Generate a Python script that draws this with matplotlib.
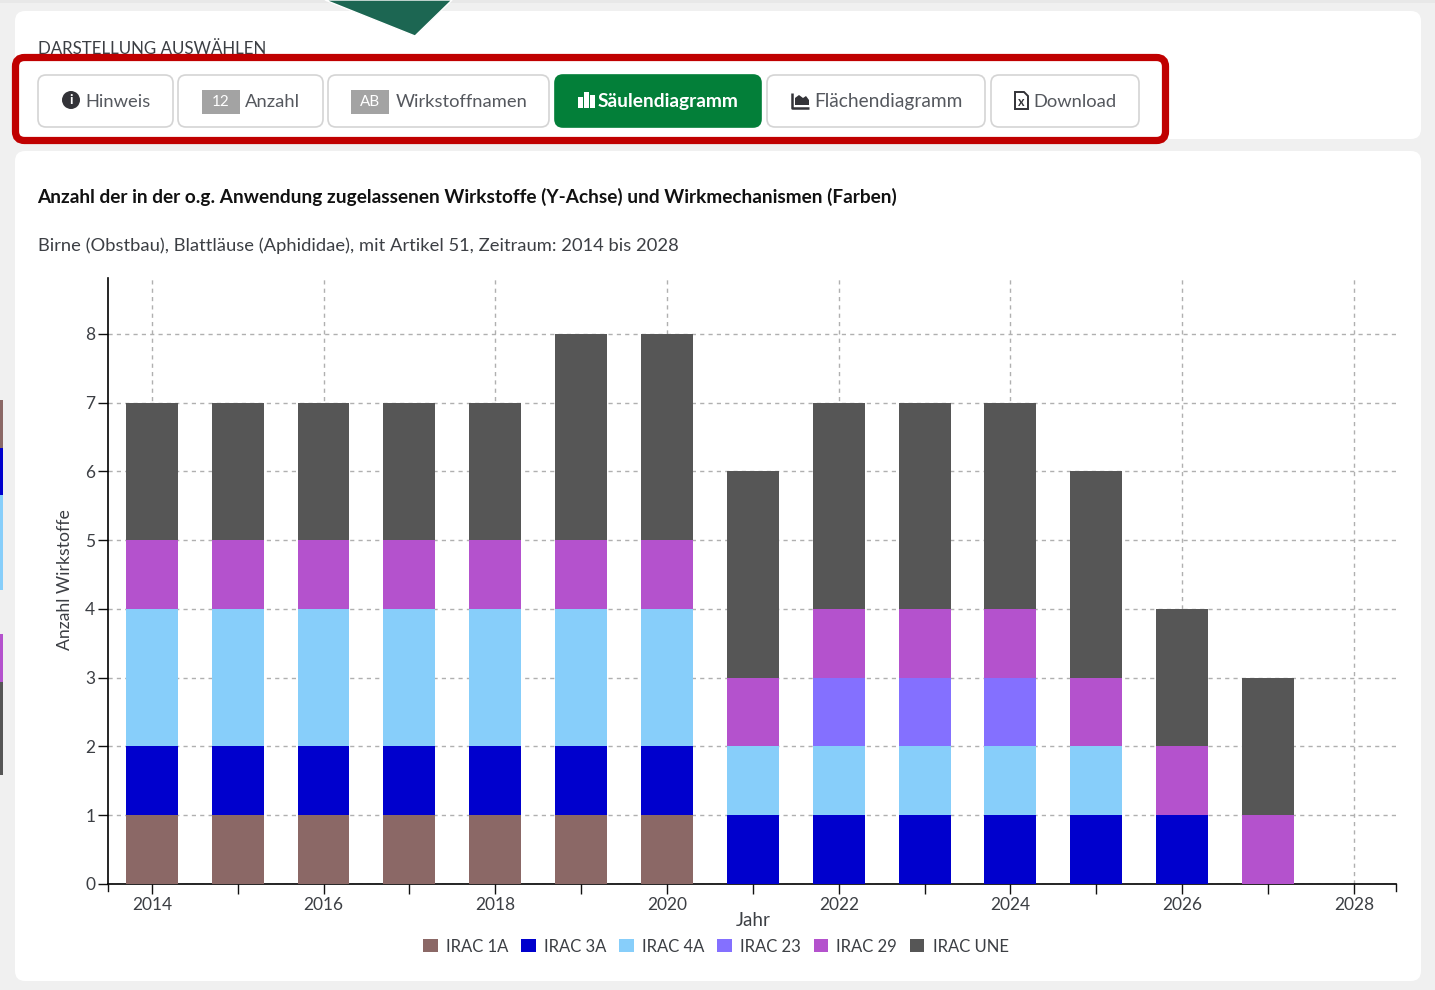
import matplotlib
matplotlib.use("Agg")
import numpy as np
import matplotlib.pyplot as plt
from matplotlib.patches import Rectangle, FancyBboxPatch, Polygon, Circle

plt.rcParams['font.family'] = ['Lato', 'DejaVu Sans']

years = [2014, 2015, 2016, 2017, 2018, 2019, 2020, 2021, 2022, 2023, 2024, 2025, 2026, 2027, 2028]
irac_1a = [1, 1, 1, 1, 1, 1, 1, 0, 0, 0, 0, 0, 0, 0, 0]
irac_3a = [1, 1, 1, 1, 1, 1, 1, 1, 1, 1, 1, 1, 1, 0, 0]
irac_4a = [2, 2, 2, 2, 2, 2, 2, 1, 1, 1, 1, 1, 0, 0, 0]
irac_23 = [0, 0, 0, 0, 0, 0, 0, 0, 1, 1, 1, 0, 0, 0, 0]
irac_29 = [1, 1, 1, 1, 1, 1, 1, 1, 1, 1, 1, 1, 1, 1, 0]
irac_une = [2, 2, 2, 2, 2, 3, 3, 3, 3, 3, 3, 3, 2, 2, 0]
series = [irac_1a, irac_3a, irac_4a, irac_23, irac_29, irac_une]
series_names = ["IRAC 1A", "IRAC 3A", "IRAC 4A", "IRAC 23", "IRAC 29", "IRAC UNE"]
series_colors = ["#8b6866", "#0000cd", "#87cefa", "#8470ff", "#b452cd", "#565656"]

title_text = "Anzahl der in der o.g. Anwendung zugelassenen Wirkstoffe (Y-Achse) und Wirkmechanismen (Farben)"
sub_text = "Birne (Obstbau), Blattläuse (Aphididae), mit Artikel 51, Zeitraum: 2014 bis 2028"
button_labels = ["Hinweis", "Anzahl", "Wirkstoffnamen", "Säulendiagramm", "Flächendiagramm", "Download"]

W, H = 1435, 990
TXT = "#3c3f44"
fig = plt.figure(figsize=(W / 100, H / 100), dpi=100, facecolor="#f0f0f0")

# page furniture, in pixel coords
bg = fig.add_axes([0, 0, 1, 1], zorder=0)
bg.set_xlim(0, W)
bg.set_ylim(H, 0)
bg.axis("off")

def card(x0, y0, x1, y1):
    bg.add_patch(FancyBboxPatch((x0 + 10, y0 + 10), x1 - x0 - 20, y1 - y0 - 20,
                                boxstyle="round,pad=10,rounding_size=10", fc="white", ec="none"))

card(15, 11, 1421, 139)
card(15, 151, 1421, 981)
bg.add_patch(Rectangle((0, 0), W, 3, fc="#e8e8e8", ec="none"))

# bits of the page behind, cut off on the left
for y0, y1, c in [(400, 448, "#8b6866"), (448, 495, "#0000cd"), (495, 590, "#87cefa"),
                  (634, 682, "#b452cd"), (682, 775, "#565656")]:
    bg.add_patch(Rectangle((0, y0), 3, y1 - y0, fc=c, ec="none"))

bg.add_patch(Polygon([(325, 0), (415, 36), (452, 0)], closed=True, fc="#1c6652", ec="white", lw=1))
bg.text(38, 49, "DARSTELLUNG AUSWÄHLEN", fontsize=12.15, color=TXT, va="center")

bg.add_patch(FancyBboxPatch((24, 66), 1133, 66, boxstyle="round,pad=8.5,rounding_size=9",
                            fc="none", ec="#c00000", lw=5.2, zorder=4))

# buttons
btn_x = [(38, 173), (178, 323), (328, 549), (555, 761), (767, 985), (991, 1139)]
text_x = [85, 245, 396, 598, 814, 1033]
text_size = [13.2, 13.2, 13.2, 13.8, 13.8, 13.2]
for i in range(6):
    x0, x1 = btn_x[i]
    active = i == 3
    bg.add_patch(FancyBboxPatch((x0 + 8, 75 + 8), x1 - x0 - 16, 52 - 16,
                                boxstyle="round,pad=8,rounding_size=8",
                                fc="#037f39" if active else "white",
                                ec="#037f39" if active else "#d4d4d4", lw=1.2))
    bg.text(text_x[i], 102, button_labels[i], fontsize=text_size[i], va="center",
            color="white" if active else "#55585e", fontweight="bold" if active else "normal")

# info icon
bg.add_patch(Circle((71, 100), 9, fc="#333338", ec="none"))
bg.text(71, 100, "i", color="white", fontsize=10, fontweight="bold", ha="center", va="center")
# number badges
for x0, lab in [(202, "12"), (351, "AB")]:
    bg.add_patch(Rectangle((x0, 90), 38, 24, fc="#a3a3a3", ec="none"))
    bg.text(x0 + 19, 102, lab, color="white", fontsize=11, ha="center", va="center")
# bar chart icon
for x0, y0 in [(578, 97), (584, 92), (590, 95)]:
    bg.add_patch(Rectangle((x0, y0), 5, 108 - y0, fc="white", ec="none"))
# area chart icon
bg.plot([792, 792, 809], [93, 108, 108], color="#333338", lw=1.8, solid_capstyle="butt")
bg.add_patch(Polygon([(795, 105), (795, 98), (799, 95), (803, 98), (806, 96), (809, 100), (809, 105)],
                     closed=True, fc="#333338", ec="none"))
# file icon
bg.add_patch(Polygon([(1015, 92), (1024, 92), (1028, 96), (1028, 109), (1015, 109)], closed=True,
                     fc="white", ec="#333338", lw=1.4))
bg.text(1021.5, 102, "x", fontsize=9, color="#333338", ha="center", va="center", fontweight="bold")

bg.text(37.5, 197, title_text, fontsize=13.73, fontweight="bold", color="#111111", va="center")
bg.text(38, 246, sub_text, fontsize=13.22, color=TXT, va="center")

# chart
ax = fig.add_axes([108 / W, 1 - 884 / H, (1396 - 108) / W, (884 - 278) / H], zorder=2)
ax.patch.set_alpha(0)
ax.set_xlim(2013.49, 2028.49)
ax.set_ylim(0, 8.81)

yrs = np.array(years)
bottom = np.zeros(len(yrs))
handles = []
for vals, name, col in zip(series, series_names, series_colors):
    vals = np.array(vals)
    b = ax.bar(yrs, vals, 0.605, bottom=bottom, color=col, label=name, zorder=3, linewidth=0)
    handles.append(b)
    bottom = bottom + vals

ax.set_xticks(yrs)
ax.set_xticklabels([str(y) if y % 2 == 0 else "" for y in years])
ax.set_yticks(range(0, 9))
ax.grid(True, axis="y", color="#b0b0b0", linestyle=(0, (3, 3)), lw=1, zorder=1)
for y in years:
    if y % 2 == 0:
        ax.axvline(y, color="#b0b0b0", linestyle=(0, (3, 3)), lw=1, zorder=1)
ax.spines["top"].set_visible(False)
ax.spines["right"].set_visible(False)
ax.spines["left"].set_linewidth(1.2)
ax.spines["bottom"].set_linewidth(1.2)
ax.tick_params(axis="both", length=7, width=1, color="#111111", labelsize=12.5, labelcolor=TXT)
ax.tick_params(axis="x", pad=2.6)
ax.tick_params(axis="y", pad=2.2)
# end ticks of the x axis
for xe in ax.get_xlim():
    ax.plot([xe, xe], [0, -7 / 68.75], color="#111111", lw=1, clip_on=False, zorder=4)

bg.text(753, 921, "Jahr", fontsize=13.5, color=TXT, ha="center", va="center")
bg.text(65.5, 580, "Anzahl Wirkstoffe", fontsize=12.7, color=TXT, rotation=90, ha="center", va="center")

fig.legend(handles=handles, labels=series_names, loc="center", bbox_to_anchor=(716 / W, 1 - 946.5 / H),
           ncol=6, frameon=False, fontsize=12, labelcolor=TXT, handlelength=0.85, handleheight=0.85,
           handletextpad=0.49, columnspacing=0.8, borderpad=0)

fig.savefig("out.png", dpi=100, facecolor=fig.get_facecolor())
